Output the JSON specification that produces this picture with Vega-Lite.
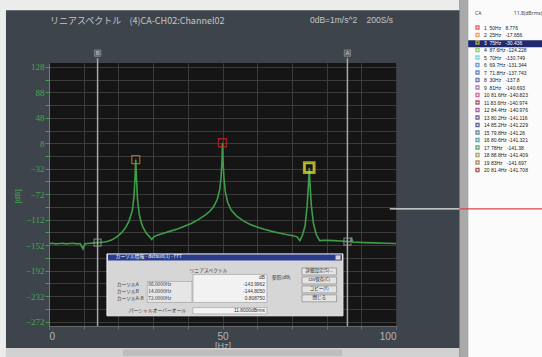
{
  "$schema": "https://vega.github.io/schema/vega-lite/v6.json",
  "width": 347,
  "height": 263,
  "autosize": {"type": "none"},
  "padding": {"left": 49, "top": 63, "right": 146, "bottom": 31},
  "background": "#3e444c",
  "config": {"view": {"fill": "#151515", "stroke": null}, "font": "Noto Sans", "point": {"size": 64, "strokeWidth": 1.3}},
  "title": {"text": "リニアスペクトル\u00a0\u00a0\u00a0\u00a0(4)CA-CH02:Channel02", "anchor": "start", "frame": "group", "orient": "top", "offset": 22, "dy": 48, "fontSize": 9, "fontWeight": "normal", "color": "#c4c4c4", "font": "Noto Sans CJK JP", "dx": 1},
  "datasets": {
    "spectrum": [
      {"hz": 0, "db": -149.5}, {"hz": 1, "db": -149}, {"hz": 2, "db": -150}, {"hz": 3, "db": -149.5}, {"hz": 4, "db": -149},
      {"hz": 5, "db": -150}, {"hz": 6, "db": -149.5}, {"hz": 7, "db": -149}, {"hz": 8, "db": -150}, {"hz": 9, "db": -149.5},
      {"hz": 9.8, "db": -158}, {"hz": 10.3, "db": -150}, {"hz": 11, "db": -149.5}, {"hz": 12, "db": -149}, {"hz": 13, "db": -148.5},
      {"hz": 14, "db": -148}, {"hz": 15, "db": -147.5}, {"hz": 16, "db": -147}, {"hz": 17, "db": -146}, {"hz": 18, "db": -144},
      {"hz": 19, "db": -141}, {"hz": 20, "db": -137}, {"hz": 21, "db": -132}, {"hz": 22, "db": -125}, {"hz": 23, "db": -115},
      {"hz": 24, "db": -98}, {"hz": 24.5, "db": -75}, {"hz": 24.8, "db": -45}, {"hz": 25, "db": -17.7}, {"hz": 25.2, "db": -45},
      {"hz": 25.5, "db": -80}, {"hz": 26, "db": -103}, {"hz": 26.5, "db": -115}, {"hz": 27, "db": -123}, {"hz": 28, "db": -133},
      {"hz": 29, "db": -139}, {"hz": 29.6, "db": -143}, {"hz": 30.2, "db": -139}, {"hz": 31, "db": -137}, {"hz": 33, "db": -133.5},
      {"hz": 35, "db": -130}, {"hz": 37, "db": -126.5}, {"hz": 39, "db": -122.5}, {"hz": 41, "db": -118}, {"hz": 43, "db": -112},
      {"hz": 45, "db": -105}, {"hz": 46.5, "db": -98}, {"hz": 47.5, "db": -91}, {"hz": 48.5, "db": -80}, {"hz": 49.2, "db": -65},
      {"hz": 49.6, "db": -45}, {"hz": 49.85, "db": -20}, {"hz": 50, "db": 8.8}, {"hz": 50.15, "db": -20}, {"hz": 50.4, "db": -45},
      {"hz": 50.8, "db": -68}, {"hz": 51.5, "db": -85}, {"hz": 52.5, "db": -97}, {"hz": 54, "db": -106}, {"hz": 56, "db": -114},
      {"hz": 58, "db": -119.5}, {"hz": 60, "db": -123.5}, {"hz": 62, "db": -127}, {"hz": 64, "db": -130}, {"hz": 66, "db": -132.5},
      {"hz": 68, "db": -135}, {"hz": 70, "db": -137}, {"hz": 71.5, "db": -139}, {"hz": 72.3, "db": -145}, {"hz": 73, "db": -137},
      {"hz": 73.8, "db": -122}, {"hz": 74.4, "db": -90}, {"hz": 74.8, "db": -55}, {"hz": 75, "db": -30.4}, {"hz": 75.2, "db": -55},
      {"hz": 75.6, "db": -90}, {"hz": 76.2, "db": -118}, {"hz": 77, "db": -135}, {"hz": 78, "db": -145}, {"hz": 79, "db": -144.5},
      {"hz": 80, "db": -144.5}, {"hz": 82, "db": -145}, {"hz": 84, "db": -145.5}, {"hz": 86, "db": -146.5}, {"hz": 87, "db": -146},
      {"hz": 87.2, "db": -140}, {"hz": 87.5, "db": -147}, {"hz": 89, "db": -147.5}, {"hz": 91, "db": -148}, {"hz": 94, "db": -148.5},
      {"hz": 97, "db": -149}, {"hz": 100, "db": -149.5}
    ],
    "peaks": [
      {"hz": 50, "db": 8.776, "label": "1\u00a0\u00a050Hz\u00a0\u00a0\u00a08.776"},
      {"hz": 25, "db": -17.656, "label": "2\u00a0\u00a025Hz\u00a0\u00a0\u00a0-17.656"},
      {"hz": 75, "db": -30.436, "label": "3\u00a0\u00a075Hz\u00a0\u00a0\u00a0-30.436"}
    ],
    "cursors": [
      {"hz": 14, "db": -148, "name": "B"},
      {"hz": 86, "db": -146.5, "name": "A"}
    ],
    "dialogText": [
      {"hz": 19.2, "db": -171.3, "t": "カーソル情報 - default(1) - FFT"}
    ],
    "dialogLabels": [
      {"hz": 19.5, "db": -214.4, "t": "カーソルA"},
      {"hz": 19.5, "db": -225.9, "t": "カーソルB"},
      {"hz": 19.5, "db": -237, "t": "カーソルA-B"},
      {"hz": 28.6, "db": -214.4, "t": "86.0000Hz"},
      {"hz": 28.6, "db": -225.9, "t": "14.0000Hz"},
      {"hz": 28.6, "db": -237, "t": "72.0000Hz"},
      {"hz": 40.5, "db": -192, "t": "リニアスペクトル"},
      {"hz": 23, "db": -255, "t": "パーシャルオーバーオール"},
      {"hz": 64.2, "db": -203.5, "t": "参照(dB)"}
    ],
    "dialogValues": [
      {"hz": 62.2, "db": -203.5, "t": "dB"},
      {"hz": 62.2, "db": -214.4, "t": "-143.9962"},
      {"hz": 62.2, "db": -225.9, "t": "-144.8050"},
      {"hz": 62.2, "db": -237, "t": "0.808750"},
      {"hz": 62.2, "db": -255, "t": "11.8000dBrms"}
    ],
    "buttons": [
      {"hz": 72.9, "hz2": 82.9, "db": -187.9, "db2": -198.9, "mid": -193.4, "t": "詳細設定(S)..."},
      {"hz": 72.9, "hz2": 82.9, "db": -202.0, "db2": -213.0, "mid": -207.5, "t": "csv保存(C)"},
      {"hz": 72.9, "hz2": 82.9, "db": -216.0, "db2": -227.0, "mid": -221.5, "t": "コピー(Y)"},
      {"hz": 72.9, "hz2": 82.9, "db": -230.0, "db2": -241.0, "mid": -235.5, "t": "閉じる"}
    ]
  },
  "encoding": {
    "x": {"field": "hz", "type": "quantitative",
      "scale": {"domain": [0, 100], "nice": false, "zero": false},
      "axis": {"values": [0, 10, 20, 30, 40, 50, 60, 70, 80, 90, 100], "labelExpr": "datum.value % 50 == 0 ? datum.label : ''",
        "grid": true, "gridColor": "#3b3b3b", "gridWidth": 1, "domainColor": "#6a6a6a", "tickColor": "#6a6a6a", "tickSize": 3,
        "labelColor": "#b4b4b4", "labelFontSize": 10, "labelPadding": 2, "labelFont": "Liberation Sans",
        "title": "[Hz]", "titleColor": "#b4b4b4", "titleFontSize": 9, "titleFontWeight": "normal", "titlePadding": 0, "titleFont": "Liberation Sans"}},
    "y": {"field": "db", "type": "quantitative",
      "scale": {"domain": [-279, 134], "nice": false, "zero": false},
      "axis": {"values": [128, 108, 88, 68, 48, 28, 8, -12, -32, -52, -72, -92, -112, -132, -152, -172, -192, -212, -232, -252, -272],
        "labelExpr": "(datum.value - 8) % 40 == 0 ? datum.label : ''",
        "grid": true, "gridColor": "#3b3b3b", "gridWidth": 1, "domainColor": "#3f9f48", "tickColor": "#3f9f48", "tickSize": 4,
        "labelColor": "#46a64f", "labelFontSize": 9, "labelPadding": 1, "labelFont": "Liberation Sans Narrow",
        "title": "[dB]", "titleColor": "#46a64f", "titleFontSize": 8, "titleFontWeight": "normal", "titleX": -32, "titleY": 133, "titleBaseline": "middle", "titleFont": "Liberation Sans"}}
  },
  "layer": [
    {"data": {"values": [{"hz": -14.2, "db": 233}]}, "mark": {"type": "rect", "color": "#ececec", "clip": false},
     "encoding": {"x2": {"datum": 118.3}, "y2": {"datum": 217}}},
    {"data": {"values": [{"hz": -14.2, "db": 233}]}, "mark": {"type": "rect", "color": "#ececec", "clip": false},
     "encoding": {"x2": {"datum": -12.4}, "y2": {"datum": -328}}},
    {"data": {"values": [{"hz": -12.4, "db": -313.5}]}, "mark": {"type": "rect", "color": "#d2d2d2", "clip": false},
     "encoding": {"x2": {"datum": 118.3}, "y2": {"datum": -328}}},
    {"data": {"values": [{"hz": 21.3, "db": -316}]}, "mark": {"type": "rect", "color": "#bdbdbd", "clip": false},
     "encoding": {"x2": {"datum": 84.5}, "y2": {"datum": -326}}},
    {"data": {"values": [{"hz": 118.3, "db": 233}]}, "mark": {"type": "rect", "color": "#a9a9a9", "clip": false},
     "encoding": {"x2": {"datum": 120.8}, "y2": {"datum": -328}}},
    {"data": {"values": [{"hz": 120.8, "db": 233}]}, "mark": {"type": "rect", "color": "#fbfbfb", "clip": false},
     "encoding": {"x2": {"datum": 142.5}, "y2": {"datum": -328}}},
    {"data": {"values": [{"hz": 120.8, "db": 169.9}]}, "mark": {"type": "rect", "color": "#1f2a6e", "clip": false},
     "encoding": {"x2": {"datum": 142.5}, "y2": {"datum": 158.6}}},
    {"data": {"name": "spectrum"},
     "mark": {"type": "line", "color": "#3e9c4a", "strokeWidth": 1.6, "interpolate": "linear"}},
    {"data": {"name": "cursors"},
     "mark": {"type": "rule", "color": "#a8a8a8", "strokeWidth": 1.5, "clip": false},
     "encoding": {"y": {"datum": 141.5}, "y2": {"datum": -279}}},
    {"data": {"name": "cursors"},
     "mark": {"type": "point", "shape": "square", "filled": false, "color": "#9a9a9a", "size": 49, "strokeWidth": 1.2}},
    {"data": {"name": "cursors"},
     "mark": {"type": "point", "shape": "square", "filled": true, "fill": "#5a5f66", "stroke": "#8a8a8a", "strokeWidth": 0.8, "size": 40, "opacity": 1, "clip": false},
     "encoding": {"y": {"datum": 149.5}}},
    {"data": {"name": "cursors"},
     "mark": {"type": "text", "color": "#d0d0d0", "fontSize": 6, "clip": false, "baseline": "middle", "align": "center"},
     "encoding": {"y": {"datum": 149.5}, "text": {"field": "name"}}},
    {"data": {"name": "peaks"},
     "mark": {"type": "point", "shape": "square", "filled": false},
     "encoding": {
       "color": {"field": "label", "type": "nominal",
         "scale": {"domain": [
           "1\u00a0\u00a050Hz\u00a0\u00a0\u00a08.776", "2\u00a0\u00a025Hz\u00a0\u00a0\u00a0-17.656", "3\u00a0\u00a075Hz\u00a0\u00a0\u00a0-30.436",
           "4\u00a0\u00a087.6Hz\u00a0-124.228", "5\u00a0\u00a070Hz\u00a0\u00a0\u00a0-130.749", "6\u00a0\u00a069.7Hz\u00a0-131.344",
           "7\u00a0\u00a071.8Hz\u00a0-137.743", "8\u00a0\u00a030Hz\u00a0\u00a0\u00a0-137.8", "9\u00a0\u00a081Hz\u00a0\u00a0\u00a0-140.693",
           "10\u00a081.6Hz\u00a0-140.823", "11\u00a083.6Hz\u00a0-140.974", "12\u00a084.4Hz\u00a0-140.976",
           "13\u00a080.2Hz\u00a0-141.116", "14\u00a085.2Hz\u00a0-141.229", "15\u00a079.8Hz\u00a0-141.26",
           "16\u00a080.6Hz\u00a0-141.321", "17\u00a078Hz\u00a0\u00a0\u00a0-141.38", "18\u00a088.8Hz\u00a0-141.409",
           "19\u00a083Hz\u00a0\u00a0\u00a0-141.697", "20\u00a081.4Hz\u00a0-141.708"],
           "range": ["#e02424", "#f07a22", "#e8e230", "#5cbf3e", "#3fc6d2", "#2f78d4", "#2454b4", "#3f3fa0", "#9a44a6", "#e0227e",
                     "#86132f", "#7e2285", "#34236f", "#222364", "#1f5a86", "#1f8484", "#1f8442", "#86862a", "#86602a", "#841414"]},
         "legend": {"orient": "none", "legendX": 426, "legendY": -52, "title": "CA\u00a0\u00a0\u00a0\u00a0\u00a0\u00a0\u00a0\u00a0\u00a0\u00a0\u00a0\u00a0\u00a0\u00a0\u00a0\u00a0\u00a0\u00a0\u00a0\u00a0\u00a0\u00a0\u00a0\u00a0\u00a011.8(dBrms)", "titleFontSize": 5, "titleFontWeight": "normal",
           "titleColor": "#444444", "titlePadding": 9, "labelFontSize": 5, "labelColor": {"expr": "datum.index == 2 ? '#ffffff' : '#222222'"}, "labelFont": "Liberation Sans",
           "symbolType": "square", "symbolSize": 9, "symbolStrokeWidth": 3, "rowPadding": -1.5, "labelOffset": 4, "padding": 0}}
     }},
    {"data": {"name": "peaks"}, "transform": [{"filter": "datum.hz == 75"}],
     "mark": {"type": "point", "shape": "square", "filled": false, "color": "#e8e230", "size": 110, "strokeWidth": 2.2}},
    {"data": {"values": [{"hz": 16.7, "db": -165.8}]}, "mark": {"type": "rect", "color": "#d6d6d6", "stroke": "#f2f2f2", "strokeWidth": 1},
     "encoding": {"x2": {"datum": 84.7}, "y2": {"datum": -263}}},
    {"data": {"values": [{"hz": 17.0, "db": -166.6}]}, "mark": {"type": "rect", "color": "#2b3b8c"},
     "encoding": {"x2": {"datum": 84.4}, "y2": {"datum": -176.3}}},
    {"data": {"values": [{"hz": 82.6, "db": -168}]}, "mark": {"type": "rect", "color": "#d6d6d6", "stroke": "#888888", "strokeWidth": 0.5},
     "encoding": {"x2": {"datum": 84.0}, "y2": {"datum": -175}}},
    {"data": {"values": [{"hz": 41.5, "db": -198}]}, "mark": {"type": "rect", "color": "#f2f2f2", "stroke": "#9a9a9a", "strokeWidth": 0.6},
     "encoding": {"x2": {"datum": 62.8}, "y2": {"datum": -242}}},
    {"data": {"values": [{"hz": 41.5, "db": -250}]}, "mark": {"type": "rect", "color": "#f2f2f2", "stroke": "#9a9a9a", "strokeWidth": 0.6},
     "encoding": {"x2": {"datum": 62.8}, "y2": {"datum": -260}}},
    {"data": {"values": [{"hz": 28.3, "db": -209}]}, "mark": {"type": "rect", "color": "#e6e6e6", "stroke": "#9a9a9a", "strokeWidth": 0.6},
     "encoding": {"x2": {"datum": 41.2}, "y2": {"datum": -242}}},
    {"data": {"name": "buttons"},
     "mark": {"type": "rect", "color": "#e4e4e4", "stroke": "#777777", "strokeWidth": 0.6},
     "encoding": {"x": {"field": "hz"}, "x2": {"field": "hz2"}, "y": {"field": "db"}, "y2": {"field": "db2"}}},
    {"data": {"name": "buttons"},
     "mark": {"type": "text", "color": "#222222", "fontSize": 4.5, "font": "Noto Sans CJK JP", "align": "center", "baseline": "middle"},
     "encoding": {"x": {"datum": 77.9}, "y": {"field": "mid"}, "text": {"field": "t"}}},
    {"data": {"name": "dialogText"},
     "mark": {"type": "text", "color": "#ffffff", "fontSize": 4.8, "font": "Noto Sans CJK JP", "align": "left", "baseline": "middle"},
     "encoding": {"text": {"field": "t"}}},
    {"data": {"name": "dialogLabels"},
     "mark": {"type": "text", "color": "#333333", "fontSize": 4.8, "font": "Noto Sans CJK JP", "align": "left", "baseline": "middle"},
     "encoding": {"text": {"field": "t"}}},
    {"data": {"name": "dialogValues"},
     "mark": {"type": "text", "color": "#333333", "fontSize": 4.8, "font": "Liberation Sans", "align": "right", "baseline": "middle"},
     "encoding": {"text": {"field": "t"}}},
    {"data": {"values": [{"hz": 98.2, "db": -95.2}]}, "mark": {"type": "rule", "color": "#e8e8e8", "strokeWidth": 1.3, "clip": false},
     "encoding": {"x2": {"datum": 118.3}}},
    {"data": {"values": [{"hz": 118.3, "db": -95.2}]}, "mark": {"type": "rule", "color": "#d7444c", "strokeWidth": 1.3, "clip": false},
     "encoding": {"x2": {"datum": 142.5}}},
    {"data": {"values": [{"hz": 75.2, "db": 201}]}, "mark": {"type": "text", "color": "#c4c4c4", "fontSize": 8.5, "font": "Liberation Sans", "align": "left", "baseline": "middle", "clip": false},
     "encoding": {"text": {"value": "0dB=1m/s^2\u00a0\u00a0\u00a0\u00a0200S/s"}}}
  ]
}
